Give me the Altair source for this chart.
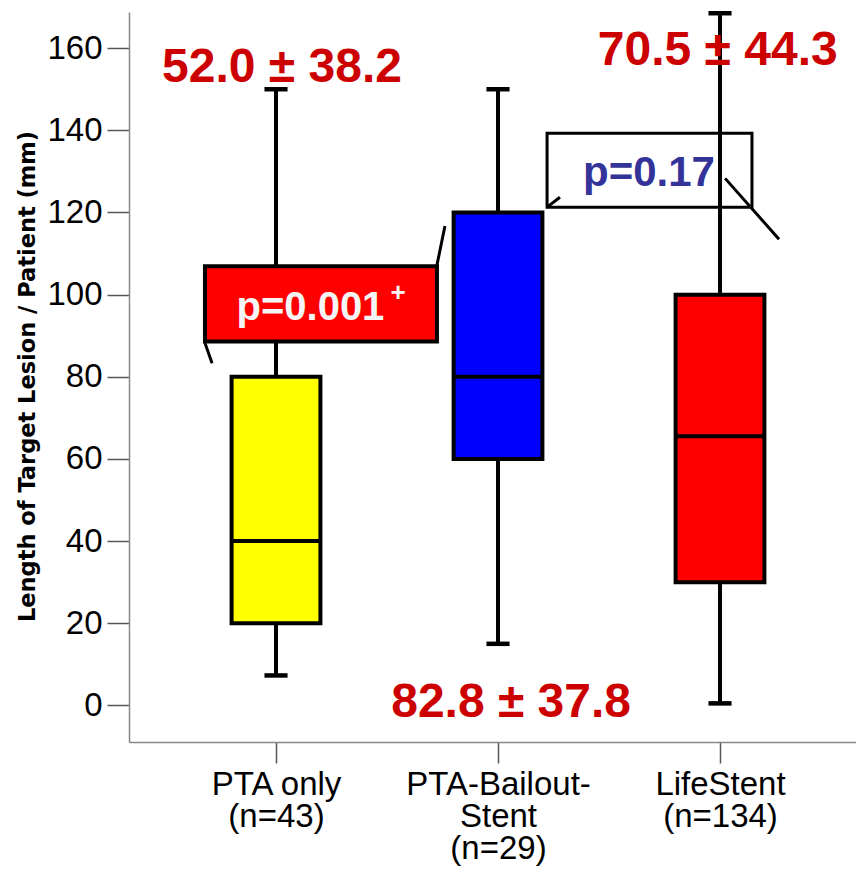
import altair as alt
import pandas as pd

# ---------------- data ----------------
categories = ["PTA only", "PTA-Bailout-Stent", "LifeStent"]
cat_pos = [1, 2, 3]
axis_label_lines = [["PTA only", "(n=43)"], ["PTA-Bailout-", "Stent", "(n=29)"], ["LifeStent", "(n=134)"]]
whisker_low = [7.3, 15.0, 0.5]
q1 = [20, 60, 30]
median = [40, 80, 65.5]
q3 = [80, 120, 100]
whisker_high = [150, 150, 168.5]
box_colors = ["#FFFF00", "#0000FF", "#FF0000"]
stat_labels = ["52.0 \u00b1 38.2", "82.8 \u00b1 37.8", "70.5 \u00b1 44.3"]
y_ticks = [0, 20, 40, 60, 80, 100, 120, 140, 160]
p_labels = ["p=0.001", "p=0.17"]

# annotation anchors (data units)
stat_x = [1.027, 2.059, 2.99]
stat_y = [151.7, -2.7, 155.9]

BOX_HALF = 0.2
CAP_HALF = 0.052

df = pd.DataFrame({
    "cat": categories, "pos": cat_pos, "lo": whisker_low, "q1": q1,
    "med": median, "q3": q3, "hi": whisker_high,
})
df["bx1"] = df["pos"] - BOX_HALF
df["bx2"] = df["pos"] + BOX_HALF
df["cx1"] = df["pos"] - CAP_HALF
df["cx2"] = df["pos"] + CAP_HALF

XD = [0.3378, 3.6126]
YD = [-8.9, 168.8]

label_expr = " : ".join(
    f"datum.value == {p} ? {lines!r}" for p, lines in zip(cat_pos[:-1], axis_label_lines[:-1])
) + f" : {axis_label_lines[-1]!r}"

xscale = alt.Scale(domain=XD, nice=False, zero=False)
yscale = alt.Scale(domain=YD, nice=False, zero=False)

x_axis = alt.Axis(values=cat_pos, labelExpr=label_expr, title=None, grid=False,
                  tickSize=21, tickColor="#555555", tickWidth=1.5,
                  domainColor="#888888", domainWidth=1.5,
                  labelFont="Liberation Sans", labelFontSize=33, labelColor="#000000",
                  labelPadding=5, labelBaseline="top", labelLineHeight=32, labelFlush=False,
                  labelLimit=0, labelOverlap=False)
y_axis = alt.Axis(values=y_ticks, title="Length of Target Lesion / Patient (mm)", grid=False,
                  tickSize=22, tickColor="#555555", tickWidth=1.5,
                  domainColor="#888888", domainWidth=1.5,
                  labelFont="Liberation Sans", labelFontSize=33, labelColor="#000000",
                  labelPadding=5,
                  titleFont="DejaVu Sans", titleFontWeight="bold", titleFontSize=22.5,
                  titleColor="#000000", titleAngle=-90, titleX=-102, titleY=364,
                  titleAlign="center", titleBaseline="middle")

base = alt.Chart(df)

# axes carrier (invisible)
axes = base.mark_point(opacity=0).encode(
    x=alt.X("pos:Q", scale=xscale, axis=x_axis),
    y=alt.Y("med:Q", scale=yscale, axis=y_axis),
)

# blue p-value box (drawn below whiskers)
blue_box_df = pd.DataFrame({"x1": [2.221], "x2": [3.144], "y1": [121.3], "y2": [139.3]})
blue_box = alt.Chart(blue_box_df).mark_rect(fill="white", stroke="black", strokeWidth=3).encode(
    x=alt.X("x1:Q", scale=xscale), x2="x2:Q", y=alt.Y("y1:Q", scale=yscale), y2="y2:Q")

whiskers = base.mark_rule(color="black", strokeWidth=4).encode(
    x=alt.X("pos:Q", scale=xscale), y=alt.Y("lo:Q", scale=yscale), y2="hi:Q")
caps_lo = base.mark_rule(color="black", strokeWidth=4.5).encode(
    x=alt.X("cx1:Q", scale=xscale), x2="cx2:Q", y=alt.Y("lo:Q", scale=yscale))
caps_hi = base.mark_rule(color="black", strokeWidth=4.5).encode(
    x=alt.X("cx1:Q", scale=xscale), x2="cx2:Q", y=alt.Y("hi:Q", scale=yscale))
boxes = base.mark_rect(stroke="black", strokeWidth=4).encode(
    x=alt.X("bx1:Q", scale=xscale), x2="bx2:Q",
    y=alt.Y("q1:Q", scale=yscale), y2="q3:Q",
    fill=alt.Fill("cat:N", scale=alt.Scale(domain=categories, range=box_colors), legend=None))
medians = base.mark_rule(color="black", strokeWidth=4).encode(
    x=alt.X("bx1:Q", scale=xscale), x2="bx2:Q", y=alt.Y("med:Q", scale=yscale))

# red p-value box
red_box_df = pd.DataFrame({"x1": [0.680], "x2": [1.725], "y1": [88.6], "y2": [106.9]})
red_box = alt.Chart(red_box_df).mark_rect(fill="#FF0000", stroke="black", strokeWidth=4).encode(
    x=alt.X("x1:Q", scale=xscale), x2="x2:Q", y=alt.Y("y1:Q", scale=yscale), y2="y2:Q")

callouts_df = pd.DataFrame({
    "x1": [0.680, 1.725, 2.221, 3.023],
    "y1": [88.2, 107.2, 121.3, 128.3],
    "x2": [0.712, 1.761, 2.279, 3.266],
    "y2": [83.3, 116.7, 123.7, 113.5],
})
callouts = alt.Chart(callouts_df).mark_rule(color="black", strokeWidth=3).encode(
    x=alt.X("x1:Q", scale=xscale), x2="x2:Q", y=alt.Y("y1:Q", scale=yscale), y2="y2:Q")

p1_df = pd.DataFrame({"x": [1.155], "y": [93.8], "t": [p_labels[0]]})
p1_text = alt.Chart(p1_df).mark_text(font="Liberation Sans", fontWeight="bold", fontSize=40,
                                     color="#F5F5F5", align="center", baseline="alphabetic").encode(
    x=alt.X("x:Q", scale=xscale), y=alt.Y("y:Q", scale=yscale), text="t:N")
plus_df = pd.DataFrame({"x": [1.550], "y": [100.3], "t": ["+"]})
plus_text = alt.Chart(plus_df).mark_text(font="Liberation Sans", fontWeight="bold", fontSize=26,
                                         color="#F5F5F5", align="center", baseline="middle").encode(
    x=alt.X("x:Q", scale=xscale), y=alt.Y("y:Q", scale=yscale), text="t:N")
p2_df = pd.DataFrame({"x": [2.680], "y": [126.4], "t": [p_labels[1]]})
p2_text = alt.Chart(p2_df).mark_text(font="Liberation Sans", fontWeight="bold", fontSize=42,
                                     color="#333399", align="center", baseline="alphabetic").encode(
    x=alt.X("x:Q", scale=xscale), y=alt.Y("y:Q", scale=yscale), text="t:N")

stats_df = pd.DataFrame({"x": stat_x, "y": stat_y, "t": stat_labels})
stats = alt.Chart(stats_df).mark_text(font="Liberation Sans", fontWeight="bold", fontSize=48,
                                      color="#CC0000", align="center", baseline="alphabetic").encode(
    x=alt.X("x:Q", scale=xscale), y=alt.Y("y:Q", scale=yscale), text="t:N")

chart = alt.layer(
    axes, blue_box, p2_text, whiskers, caps_lo, caps_hi, boxes, medians,
    red_box, callouts, p1_text, plus_text, stats,
).properties(
    width=727, height=730,
    autosize=alt.AutoSizeParams(type="none"),
    padding={"left": 129, "top": 12, "right": 0, "bottom": 127},
    background="white",
).configure_view(stroke=None)

chart.save("out.html", embed_options={"renderer": "svg", "actions": False})
